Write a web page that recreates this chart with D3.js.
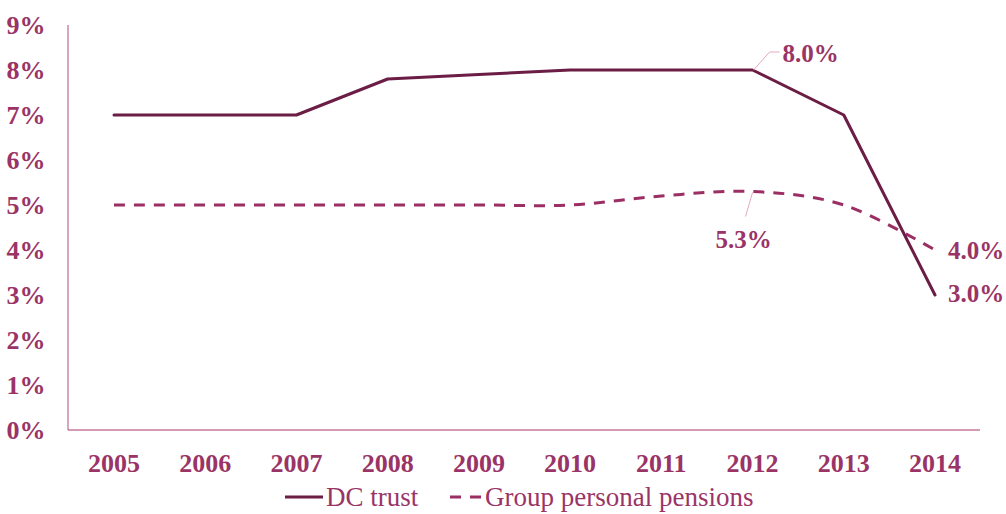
<!DOCTYPE html>
<html><head><meta charset="utf-8">
<script src="https://cdn.jsdelivr.net/npm/d3@7"></script>
<style>body{margin:0;background:#fff}svg{display:block}</style>
</head><body>
<svg id="c" width="1006" height="514"></svg>
<script>
const years = ["2005","2006","2007","2008","2009","2010","2011","2012","2013","2014"];
const dcTrust = [7.0,7.0,7.0,7.8,7.9,8.0,8.0,8.0,7.0,3.0];
const gpp = [5.0,5.0,5.0,5.0,5.0,5.0,5.2,5.3,5.0,4.0];
const yTicks = [0,1,2,3,4,5,6,7,8,9];
const seriesNames = ["DC trust","Group personal pensions"];

const svg = d3.select("#c");
const font = "'Liberation Serif', 'DejaVu Serif', serif";
const textCol = "#9a3466";
const dcCol = "#6b1d45";
const gppCol = "#9b2f63";

const x = d3.scalePoint().domain(years).range([114, 935]);
const y = d3.scaleLinear().domain([0,9]).range([430, 25]);

// axes lines
svg.append("line").attr("x1",68).attr("x2",68).attr("y1",y(9)).attr("y2",y(0))
  .attr("stroke","#c98aa8").attr("stroke-width",1.5);
svg.append("line").attr("x1",68).attr("x2",980).attr("y1",y(0)).attr("y2",y(0))
  .attr("stroke","#a8386c").attr("stroke-width",1.2);

// y tick labels
svg.selectAll(".yt").data(yTicks).join("text")
  .attr("x",26).attr("y",d=>y(d)).attr("dy","0.35em").attr("text-anchor","middle")
  .attr("font-family",font).attr("font-weight","bold").attr("font-size",26)
  .attr("fill",textCol).text(d=>d+"%");

// x tick labels
svg.selectAll(".xt").data(years).join("text")
  .attr("x",d=>x(d)).attr("y",463).attr("dy","0.35em").attr("text-anchor","middle")
  .attr("font-family",font).attr("font-weight","bold").attr("font-size",26)
  .attr("fill",textCol).text(d=>d);

// lines
const lineStraight = d3.line().x((d,i)=>x(years[i])).y(d=>y(d));
const lineSmooth = d3.line().x((d,i)=>x(years[i])).y(d=>y(d)).curve(d3.curveCardinal.tension(0));

svg.append("path").attr("d",lineSmooth(gpp)).attr("fill","none")
  .attr("stroke",gppCol).attr("stroke-width",3).attr("stroke-dasharray","11,9");
svg.append("path").attr("d",lineStraight(dcTrust)).attr("fill","none")
  .attr("stroke",dcCol).attr("stroke-width",3).attr("stroke-linejoin","round").attr("stroke-linecap","round");

// data labels
const lbl = (tx,ty,t)=>svg.append("text").attr("x",tx).attr("y",ty).attr("dy","0.35em")
  .attr("font-family",font).attr("font-weight","bold").attr("font-size",25)
  .attr("fill",textCol).text(t);
// 8.0% leader
svg.append("polyline").attr("points",[[x("2012")+1,y(8)],[x("2012")+17,y(8)-18],[x("2012")+27,y(8)-18]].join(" "))
  .attr("fill","none").attr("stroke","#e3a9c2").attr("stroke-width",1);
lbl(x("2012")+30, y(8)-17, dcTrust[7].toFixed(1)+"%");
// 5.3% leader
svg.append("line").attr("x1",x("2012")).attr("y1",y(5.3)+1).attr("x2",x("2012")-7).attr("y2",y(5.3)+25)
  .attr("stroke","#e3a9c2").attr("stroke-width",1);
lbl(x("2012")-37, y(5.3)+48, gpp[7].toFixed(1)+"%");
lbl(x("2014")+13, y(4), gpp[9].toFixed(1)+"%");
lbl(x("2014")+13, y(3)-2, dcTrust[9].toFixed(1)+"%");

// legend
const lg = svg.append("g");
lg.append("line").attr("x1",285).attr("x2",323).attr("y1",497).attr("y2",497).attr("stroke",dcCol).attr("stroke-width",3);
lg.append("text").attr("x",326).attr("y",497).attr("dy","0.35em").attr("font-family",font).attr("font-size",27)
  .attr("fill",textCol).text(seriesNames[0]);
lg.append("line").attr("x1",450).attr("x2",482).attr("y1",497).attr("y2",497).attr("stroke",gppCol).attr("stroke-width",3).attr("stroke-dasharray","11,9");
lg.append("text").attr("x",485).attr("y",497).attr("dy","0.35em").attr("font-family",font).attr("font-size",27)
  .attr("fill",textCol).text(seriesNames[1]);
</script>
</body></html>
